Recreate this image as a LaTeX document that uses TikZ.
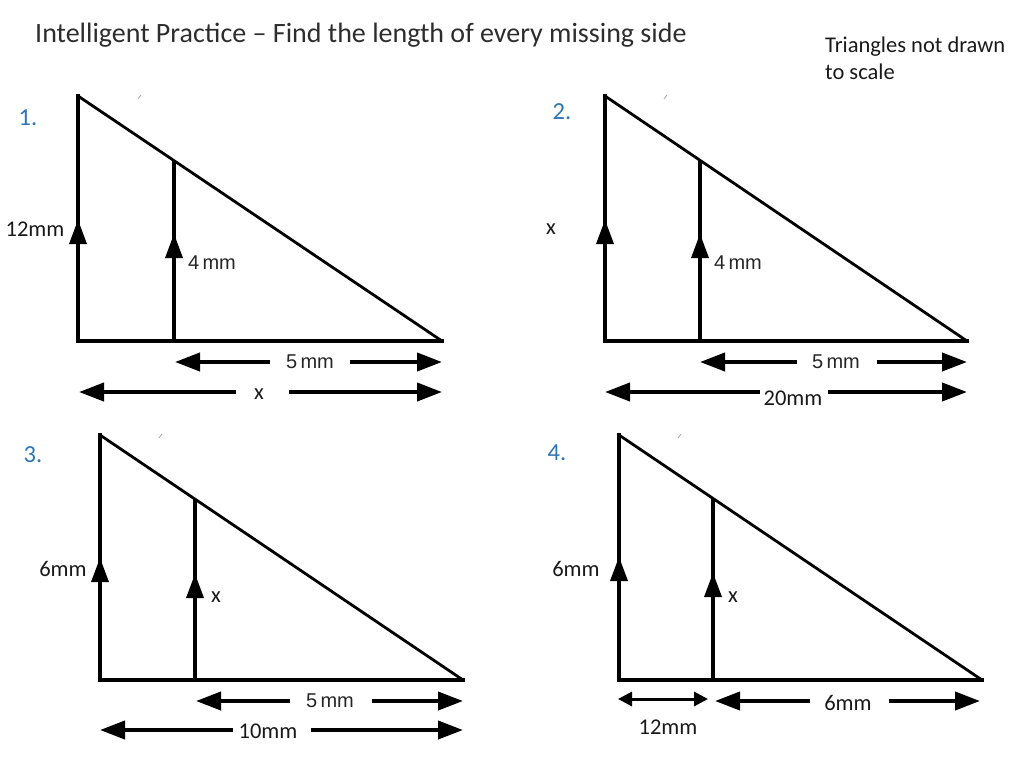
\documentclass[tikz,border=0pt]{standalone}
\usepackage{fontspec}
\setmainfont{Carlito}
\newfontfamily\arifont{Liberation Sans}
\usetikzlibrary{arrows.meta,calc}
\definecolor{numblue}{RGB}{46,117,182}
\definecolor{titlegray}{RGB}{45,45,45}
\tikzset{
  side/.style={line width=4.6pt, line join=miter, line cap=rect},
  hyp/.style={line width=2.8pt, line cap=round},
  inner/.style={line width=4.6pt},
  dim/.style={line width=4pt, -{Triangle[length=25pt,width=18pt]}},
  smalldim/.style={line width=3pt, {Triangle[length=14pt,width=14pt]}-{Triangle[length=14pt,width=14pt]}},
  lab/.style={font=\fontsize{22.5}{26}\selectfont, text=black!90, inner sep=0pt},
  alab/.style={font=\fontsize{20}{24}\arifont\selectfont, text=black!85, inner sep=0pt},
  num/.style={font=\fontsize{24.5}{28}\selectfont, text=numblue, inner sep=0pt},
  tick/.style={line width=0.8pt, gray!70},
  uphead/.pic={\fill (0,0) -- (-9,24) -- (9,24) -- cycle;}
}
\begin{document}
\begin{tikzpicture}[x=1pt,y=-1pt]
\useasboundingbox (0,0) rectangle (1024,768);

% title and note
\node[anchor=west, inner sep=0pt, text=titlegray, font=\fontsize{28}{32}\selectfont] (title) at (35,35) {Intelligent Practice -- Find the length of every missing side};
\node[anchor=west, inner sep=0pt, align=left, text=black!90, font=\fontsize{22.5}{27}\selectfont] (note) at (825,58) {Triangles not drawn\\to scale};

% ---------- Triangle 1 ----------
\coordinate (t1top) at (78,96);
\coordinate (t1bl) at (78,341);
\coordinate (t1br) at (442,341);
\coordinate (t1it) at ($(t1top)!0.264!(t1br)$);
\coordinate (t1ib) at (t1it |- t1bl);
\draw[side] (t1top) -- (t1bl) -- (t1br);
\draw[hyp] (t1top) -- (t1br);
\draw[inner] (t1it) -- (t1ib);
\pic at (78,220) {uphead};
\pic at (174,234) {uphead};
\draw[tick] (138,99) -- (141,95);
\node[num] (n1) at (28,118) {1.};
\node[lab] (l1a) at (35,229) {12mm};
\node[alab] (l1b) at (212,263) {4\,mm};
\node[alab] (l1c) at (310,362) {5\,mm};
\coordinate (a1l) at (175,362); \coordinate (a1le) at (270,362);
\coordinate (a1r) at (442,362); \coordinate (a1re) at (350,362);
\draw[dim] (a1le) -- (a1l);
\draw[dim] (a1re) -- (a1r);
\node[lab] (l1d) at (259,394) {x};
\coordinate (b1l) at (79,392); \coordinate (b1le) at (236,392);
\coordinate (b1r) at (442,392); \coordinate (b1re) at (289,392);
\draw[dim] (b1le) -- (b1l);
\draw[dim] (b1re) -- (b1r);

% ---------- Triangle 2 ----------
\coordinate (t2top) at (605,96);
\coordinate (t2bl) at (605,341);
\coordinate (t2br) at (967,341);
\coordinate (t2it) at ($(t2top)!0.262!(t2br)$);
\coordinate (t2ib) at (t2it |- t2bl);
\draw[side] (t2top) -- (t2bl) -- (t2br);
\draw[hyp] (t2top) -- (t2br);
\draw[inner] (t2it) -- (t2ib);
\pic at (605,220) {uphead};
\pic at (700,234) {uphead};
\draw[tick] (664,99) -- (667,95);
\node[num] (n2) at (562,112) {2.};
\node[lab] (l2a) at (551,229) {x};
\node[alab] (l2b) at (738,263) {4\,mm};
\node[alab] (l2c) at (836,362) {5\,mm};
\coordinate (a2l) at (700,362); \coordinate (a2le) at (797,362);
\coordinate (a2r) at (967,362); \coordinate (a2re) at (877,362);
\draw[dim] (a2le) -- (a2l);
\draw[dim] (a2re) -- (a2r);
\node[lab] (l2d) at (793,398) {20mm};
\coordinate (b2l) at (605,392); \coordinate (b2le) at (760,392);
\coordinate (b2r) at (967,392); \coordinate (b2re) at (828,392);
\draw[dim] (b2le) -- (b2l);
\draw[dim] (b2re) -- (b2r);

% ---------- Triangle 3 ----------
\coordinate (t3top) at (100,435);
\coordinate (t3bl) at (100,680);
\coordinate (t3br) at (463,680);
\coordinate (t3it) at ($(t3top)!0.262!(t3br)$);
\coordinate (t3ib) at (t3it |- t3bl);
\draw[side] (t3top) -- (t3bl) -- (t3br);
\draw[hyp] (t3top) -- (t3br);
\draw[inner] (t3it) -- (t3ib);
\pic at (100,558) {uphead};
\pic at (195,574) {uphead};
\draw[tick] (159,438) -- (162,434);
\node[num] (n3) at (33,455) {3.};
\node[lab] (l3a) at (63,569) {6mm};
\node[lab] (l3b) at (216,597) {x};
\node[alab] (l3c) at (330,701) {5\,mm};
\coordinate (a3l) at (196,701); \coordinate (a3le) at (290,701);
\coordinate (a3r) at (463,701); \coordinate (a3re) at (372,701);
\draw[dim] (a3le) -- (a3l);
\draw[dim] (a3re) -- (a3r);
\node[lab] (l3d) at (268,731) {10mm};
\coordinate (b3l) at (100,730); \coordinate (b3le) at (233,730);
\coordinate (b3r) at (463,730); \coordinate (b3re) at (311,730);
\draw[dim] (b3le) -- (b3l);
\draw[dim] (b3re) -- (b3r);

% ---------- Triangle 4 ----------
\coordinate (t4top) at (619,435);
\coordinate (t4bl) at (619,680);
\coordinate (t4br) at (982,680);
\coordinate (t4it) at ($(t4top)!0.259!(t4br)$);
\coordinate (t4ib) at (t4it |- t4bl);
\draw[side] (t4top) -- (t4bl) -- (t4br);
\draw[hyp] (t4top) -- (t4br);
\draw[inner] (t4it) -- (t4ib);
\pic at (619,557) {uphead};
\pic at (713,573) {uphead};
\draw[tick] (678,438) -- (681,434);
\node[num] (n4) at (557,453) {4.};
\node[lab] (l4a) at (576,569) {6mm};
\node[lab] (l4b) at (733,597) {x};
\coordinate (c4l) at (618,699); \coordinate (c4r) at (708,699);
\draw[smalldim] (c4l) -- (c4r);
\node[lab] (l4c) at (668,727) {12mm};
\node[lab] (l4d) at (848,703) {6mm};
\coordinate (a4l) at (715,701); \coordinate (a4le) at (810,701);
\coordinate (a4r) at (980,701); \coordinate (a4re) at (889,701);
\draw[dim] (a4le) -- (a4l);
\draw[dim] (a4re) -- (a4r);
\end{tikzpicture}
\end{document}
